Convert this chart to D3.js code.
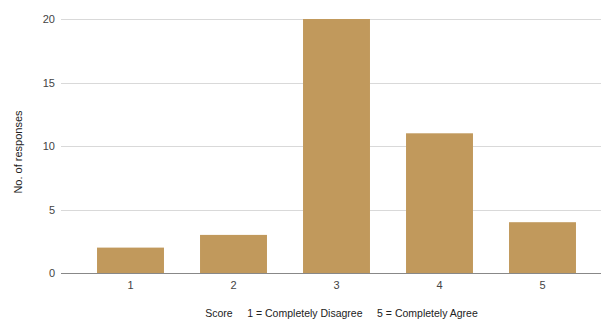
<!DOCTYPE html>
<html>
<head>
<meta charset="utf-8">
<script src="https://cdn.jsdelivr.net/npm/d3@7"></script>
<style>
  body { margin: 0; background: #fff; }
  text { font-family: "Liberation Sans", Arial, sans-serif; }
</style>
</head>
<body>
<svg width="603" height="320"></svg>
<script>
const scores = ["1", "2", "3", "4", "5"]
const responses = [2, 3, 20, 11, 4]
const yTicks = [0, 5, 10, 15, 20]

const svg = d3.select("svg")

const plotLeft = 61, plotRight = 601, plotTop = 19, plotBottom = 273

const x = d3.scaleBand()
  .domain(scores)
  .range([79, 594])
  .paddingInner(0.35)
  .paddingOuter(0.175)

const y = d3.scaleLinear()
  .domain([0, 20])
  .range([plotBottom, plotTop])

// gridlines
svg.append("g")
  .selectAll("line")
  .data(yTicks.filter(d => d > 0))
  .enter()
  .append("line")
  .attr("x1", plotLeft)
  .attr("x2", plotRight)
  .attr("y1", d => Math.round(y(d)) + 0.5)
  .attr("y2", d => Math.round(y(d)) + 0.5)
  .attr("stroke", "#d9d9d9")

// y tick labels
svg.append("g")
  .selectAll("text")
  .data(yTicks)
  .enter()
  .append("text")
  .attr("x", plotLeft - 6)
  .attr("y", d => y(d) + 4)
  .attr("text-anchor", "end")
  .attr("font-size", 11)
  .attr("fill", "#444")
  .text(d => d)

// bars
svg.append("g")
  .selectAll("rect")
  .data(responses)
  .enter()
  .append("rect")
  .attr("x", (d, i) => x(scores[i]))
  .attr("y", d => y(d))
  .attr("width", x.bandwidth())
  .attr("height", d => y(0) - y(d))
  .attr("fill", "#c1995c")

// baseline
svg.append("line")
  .attr("x1", plotLeft)
  .attr("x2", plotRight)
  .attr("y1", Math.round(y(0)) + 0.5)
  .attr("y2", Math.round(y(0)) + 0.5)
  .attr("stroke", "#888")

// x tick labels
svg.append("g")
  .selectAll("text")
  .data(scores)
  .enter()
  .append("text")
  .attr("x", d => x(d) + x.bandwidth() / 2)
  .attr("y", plotBottom + 16)
  .attr("text-anchor", "middle")
  .attr("font-size", 11)
  .attr("fill", "#444")
  .text(d => d)

// axis titles
svg.append("text")
  .attr("x", (x.range()[0] + x.range()[1]) / 2 + 5)
  .attr("y", 317)
  .attr("text-anchor", "middle")
  .attr("font-size", 10.5)
  .attr("fill", "#222")
  .attr("xml:space", "preserve")
  .style("white-space", "pre")
  .text("Score     1 = Completely Disagree     5 = Completely Agree")

svg.append("text")
  .attr("transform", `translate(22, ${(plotTop + plotBottom) / 2 + 6}) rotate(-90)`)
  .attr("text-anchor", "middle")
  .attr("font-size", 11)
  .attr("fill", "#222")
  .text("No. of responses")
</script>
</body>
</html>
